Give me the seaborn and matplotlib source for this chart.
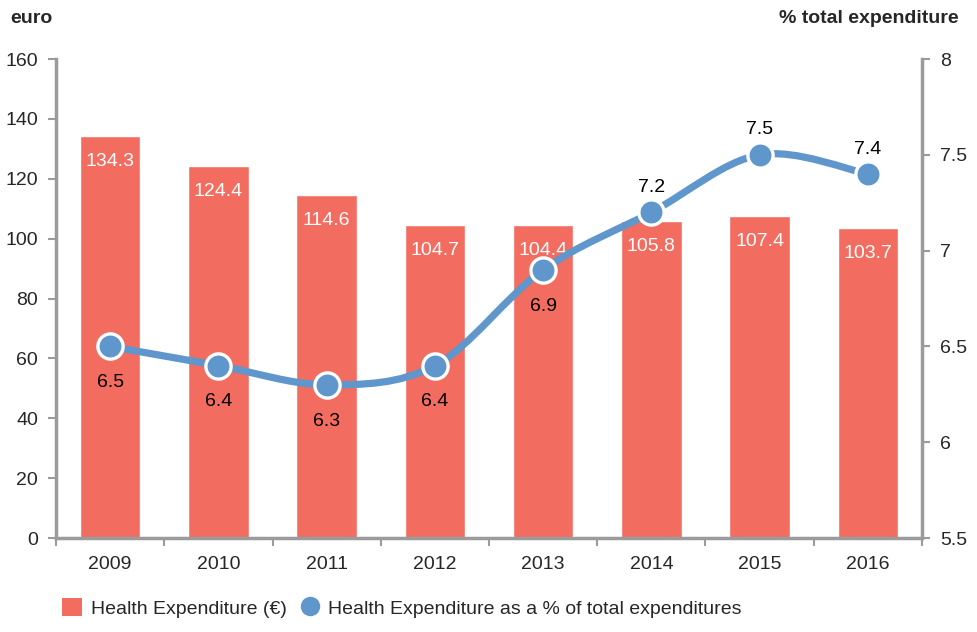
import matplotlib
matplotlib.use('Agg')
import matplotlib.pyplot as plt
import seaborn as sns
import pandas as pd
import numpy as np
from matplotlib.path import Path
from matplotlib.patches import PathPatch
from matplotlib.lines import Line2D
from matplotlib.patches import Patch

years = ['2009', '2010', '2011', '2012', '2013', '2014', '2015', '2016']
expenditure = [134.3, 124.4, 114.6, 104.7, 104.4, 105.8, 107.4, 103.7]
share = [6.5, 6.4, 6.3, 6.4, 6.9, 7.2, 7.5, 7.4]

bar_color = '#F36C60'
line_color = '#5F96CB'
spine_color = '#9B9B9E'

sns.set_style('white')
plt.rcParams['font.family'] = ['Liberation Sans', 'DejaVu Sans']

df = pd.DataFrame({'year': years, 'expenditure': expenditure, 'share': share})

fig = plt.figure(figsize=(9.78, 6.32), dpi=100)
ax = fig.add_axes([0.0573, 0.1487, 0.8854, 0.7579])
sns.barplot(data=df, x='year', y='expenditure', color=bar_color, width=0.56,
            saturation=1, ax=ax)
ax.set_ylim(0, 160)
ax.set_xlim(-0.5, len(years) - 0.5)
ax.set_yticks(range(0, 161, 20))
ax.set_xlabel('')
ax.set_ylabel('')

for i, v in enumerate(expenditure):
    ax.text(i, v - 8.5, f'{v:.1f}', ha='center', va='center', color='white', fontsize=14)

ax2 = ax.twinx()
ax2.set_ylim(5.5, 8)
ax2.set_yticks([5.5, 6, 6.5, 7, 7.5, 8])
ax2.set_yticklabels(['5.5', '6', '6.5', '7', '7.5', '8'])

# smooth line through the points (Catmull-Rom as cubic Bezier)
xs = np.arange(len(share), dtype=float)
ys = np.array(share, dtype=float)
verts = [(xs[0], ys[0])]
codes = [Path.MOVETO]
for i in range(len(xs) - 1):
    p0 = (xs[max(i - 1, 0)], ys[max(i - 1, 0)])
    p1 = (xs[i], ys[i])
    p2 = (xs[i + 1], ys[i + 1])
    p3 = (xs[min(i + 2, len(xs) - 1)], ys[min(i + 2, len(xs) - 1)])
    c1 = (p1[0] + (p2[0] - p0[0]) / 6, p1[1] + (p2[1] - p0[1]) / 6)
    c2 = (p2[0] - (p3[0] - p1[0]) / 6, p2[1] - (p3[1] - p1[1]) / 6)
    verts += [c1, c2, p2]
    codes += [Path.CURVE4] * 3
ax2.add_patch(PathPatch(Path(verts, codes), facecolor='none', edgecolor=line_color,
                        lw=5.2, capstyle='round', zorder=3))
sns.scatterplot(data=df, x='year', y='share', ax=ax2, s=330, color=line_color,
                edgecolor='white', linewidth=2.4, zorder=4)
ax2.set_xlim(-0.5, len(years) - 0.5)
ax2.set_xlabel('')
ax2.set_ylabel('')

for i, v in enumerate(share):
    if i < 5:
        ax2.text(i, v - 0.19, f'{v}', ha='center', va='center', fontsize=14, color='black')
    else:
        ax2.text(i, v + 0.13, f'{v}', ha='center', va='center', fontsize=14, color='black')

for a in (ax, ax2):
    for s in a.spines.values():
        s.set_visible(False)
ax.spines['left'].set_visible(True)
ax.spines['bottom'].set_visible(True)
ax2.spines['right'].set_visible(True)
for s in (ax.spines['left'], ax.spines['bottom'], ax2.spines['right']):
    s.set_color(spine_color)
    s.set_linewidth(2.5)

ax.tick_params(axis='y', length=6, width=1.5, color=spine_color, labelsize=14, left=True, pad=7)
ax.tick_params(axis='x', length=0, labelsize=14, pad=13)
ax.set_xticks(np.arange(-0.5, len(years), 1.0), minor=True)
ax.tick_params(axis='x', which='minor', length=6, width=1.5, color=spine_color, bottom=True)
ax2.tick_params(axis='y', length=6, width=1.5, color=spine_color, labelsize=14, right=True, pad=7)

fig.text(0.01, 0.97, 'euro', fontsize=14, fontweight='bold', ha='left', va='center')
fig.text(0.98, 0.97, '% total expenditure', fontsize=14, fontweight='bold', ha='right', va='center')

handles = [Patch(facecolor=bar_color, edgecolor='none'),
           Line2D([], [], marker='o', linestyle='none', markersize=14,
                  markerfacecolor=line_color, markeredgecolor='none')]
fig.legend(handles, ['Health Expenditure (€)', 'Health Expenditure as a % of total expenditures'],
           loc='lower left', bbox_to_anchor=(0.046, -0.005), ncol=2, frameon=False,
           fontsize=14, handlelength=1.0, handleheight=1.0, handletextpad=0.45,
           columnspacing=0.7)

fig.savefig('out.png', dpi=100)
